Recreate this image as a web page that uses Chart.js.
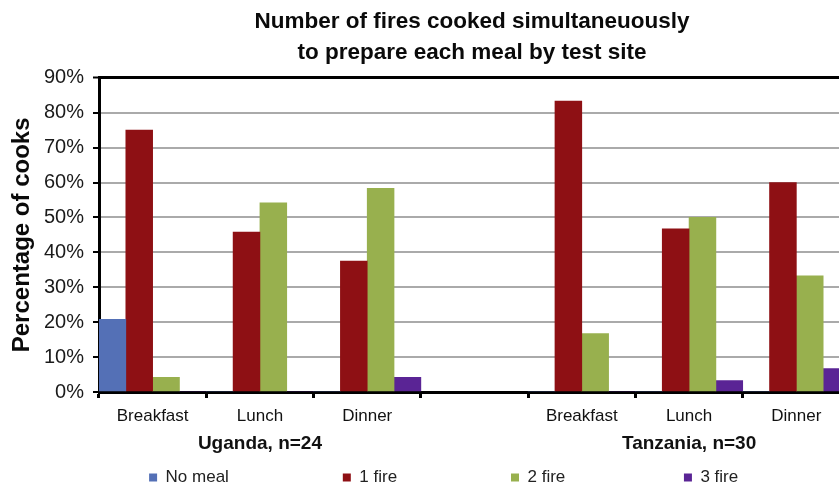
<!DOCTYPE html>
<html>
<head>
<meta charset="utf-8">
<script src="https://cdn.jsdelivr.net/npm/chart.js@4.4.1/dist/chart.umd.min.js"></script>
<style>
  html, body { margin: 0; padding: 0; overflow: hidden; background: #fff; }
  #wrap { position: absolute; left: 0; top: 0; width: 944px; height: 496px; }
</style>
</head>
<body>
<div id="wrap"><canvas id="c"></canvas></div>
<script>
// ---- data ----
const categories = ['Breakfast', 'Lunch', 'Dinner', '', 'Breakfast', 'Lunch', 'Dinner'];
const groupLabels = ['Uganda, n=24', 'Tanzania, n=30'];
const groupCenters = [1, 5];
const seriesNames = ['No meal', '1 fire', '2 fire', '3 fire'];
const noMeal    = [20.8, 0,    0,    null, 0,    0,    0];
const oneFire   = [75.0, 45.8, 37.5, null, 83.3, 46.7, 60.0];
const twoFire   = [4.2,  54.2, 58.3, null, 16.7, 50.0, 33.3];
const threeFire = [0,    0,    4.2,  null, 0,    3.3,  6.7];
const yTicks = [0, 10, 20, 30, 40, 50, 60, 70, 80, 90];

// ---- styles ----
const colors = ['#5470B6', '#8E1014', '#98B04E', '#5A2495'];
const legendSpaces = [22, 22, 23, 12];
const base = "'Liberation Sans', Arial, sans-serif";
Chart.defaults.font.family = base;
Chart.defaults.color = '#1a1a1a';

const seriesData = [noMeal, oneFire, twoFire, threeFire];
const datasets = seriesNames.map((name, i) => ({
  label: name,
  data: seriesData[i],
  backgroundColor: colors[i],
  borderWidth: 0,
  xAxisID: 'x',
  yAxisID: 'y',
  categoryPercentage: 1.0,
  barPercentage: 1.0
}));

new Chart(document.getElementById('c'), {
  type: 'bar',
  data: { labels: categories, datasets },
  options: {
    responsive: true,
    maintainAspectRatio: false,
    animation: false,
    layout: { padding: 0 },
    plugins: {
      title: {
        display: true,
        text: ['Number of fires cooked simultaneuously', 'to prepare each meal by test site'],
        font: { size: 22.5, weight: 'bold', lineHeight: 1.35 },
        color: '#0a0a0a',
        padding: { top: 7, bottom: 10 }
      },
      legend: {
        position: 'bottom',
        labels: {
          boxWidth: 8,
          boxHeight: 8,
          padding: 10,
          color: '#222',
          font: { size: 17 },
          generateLabels: (chart) => {
            const items = Chart.defaults.plugins.legend.labels.generateLabels(chart);
            items.forEach((it, i) => { it.text = it.text + ' '.repeat(legendSpaces[i]); it.lineWidth = 0; });
            return items;
          }
        }
      },
      tooltip: { enabled: false }
    },
    scales: {
      x: {
        type: 'category',
        position: 'bottom',
        offset: true,
        grid: { display: true, drawOnChartArea: false, drawTicks: true, tickLength: 6, tickColor: '#000', tickWidth: 3, offset: true },
        border: { display: true, color: '#000', width: 3 },
        ticks: { font: { size: 17 }, color: '#111', padding: 8, autoSkip: false, maxRotation: 0 },
        afterFit: (s) => { s.height = 32; }
      },
      x2: {
        type: 'linear',
        position: 'bottom',
        weight: 1,
        min: -0.5,
        max: 6.5,
        offset: false,
        grid: { display: false, drawTicks: false },
        border: { display: false },
        afterBuildTicks: (s) => { s.ticks = groupCenters.map(v => ({ value: v })); },
        ticks: {
          autoSkip: false, maxRotation: 0, padding: 8,
          font: { size: 19, weight: 'bold' }, color: '#111',
          callback: (v) => { const k = groupCenters.indexOf(v); return k >= 0 ? groupLabels[k] : ''; }
        },
        afterFit: (s) => { s.height = 35; }
      },
      y: {
        type: 'linear',
        position: 'left',
        min: 0,
        max: 90,
        afterBuildTicks: (s) => { s.ticks = yTicks.map(v => ({ value: v })); },
        ticks: { font: { size: 20 }, color: '#1a1a1a', padding: 9, callback: (v) => v + '%' },
        grid: {
          color: (ctx) => (ctx.tick && ctx.tick.value === 90) ? '#000' : '#aaaaaa',
          lineWidth: (ctx) => (ctx.tick && ctx.tick.value === 90) ? 3 : 2,
          tickColor: '#000', tickLength: 6, tickWidth: 2
        },
        border: { display: true, color: '#000', width: 3 },
        title: {
          display: true,
          text: 'Percentage of cooks',
          font: { size: 24, weight: 'bold' },
          color: '#0a0a0a',
          padding: { top: 8, bottom: 0 }
        },
        afterFit: (s) => { s.width = 99; }
      },
      y2: {
        type: 'linear',
        position: 'right',
        display: true,
        grid: { display: false, drawTicks: false },
        border: { display: false },
        ticks: { display: false },
        afterFit: (s) => { s.width = 94; }
      }
    }
  }
});
</script>
</body>
</html>
